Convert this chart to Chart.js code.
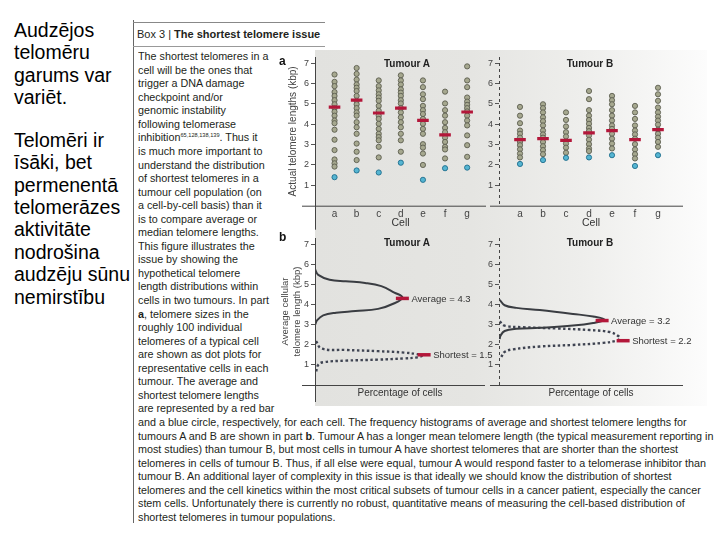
<!DOCTYPE html>
<html><head><meta charset="utf-8">
<script src="https://cdn.jsdelivr.net/npm/chart.js@4.4.1/dist/chart.umd.min.js"></script>
<style>
body{margin:0;width:720px;height:540px;background:#fff;position:relative;overflow:hidden;font-family:"Liberation Sans",Arial,sans-serif;}
.abs{position:absolute;}
.slide{left:14px;font-size:19.5px;line-height:22.4px;color:#000;white-space:nowrap;}
#bg{left:315px;top:50px;width:392px;height:356px;background:linear-gradient(to right,#e2e2df 0%,#e5e5e2 40%,#eeeeec 68%,#fcfcfc 100%);}
#boxline{left:133px;top:20px;width:1px;height:503px;background:#666;}
#hdrtop{left:133px;top:22px;width:192px;height:1px;background:#888;}
#hdrbot{left:133px;top:46px;width:192px;height:1px;background:#999;}
#hdr{left:137px;top:28px;font-size:11px;color:#231f20;white-space:nowrap;}
#body{left:138px;top:50.2px;font-size:11.5px;line-height:13.55px;color:#231f20;white-space:nowrap;transform-origin:0 0;}
#body sup{font-size:6px;vertical-align:4px;line-height:0;}
.ttl{font-size:10px;font-weight:bold;color:#222;white-space:nowrap;transform:translate(-50%,-50%);}
.plab{font-size:12px;font-weight:bold;color:#111;}
canvas{position:absolute;}
</style>
</head><body>
<div class="abs slide" style="top:18.8px">Audzējos<br>telomēru<br>garums var<br>variēt.</div>
<div class="abs slide" style="top:128.8px">Telomēri ir<br>īsāki, bet<br>permenentā<br>telomerāzes<br>aktivitāte<br>nodrošina<br>audzēju sūnu<br>nemirstību</div>

<div id="bg" class="abs"></div>
<div id="boxline" class="abs"></div>
<div id="hdrtop" class="abs"></div>
<div id="hdrbot" class="abs"></div>
<div id="hdr" class="abs">Box 3 | <b>The shortest telomere issue</b></div>
<div id="body" class="abs">
<div><span>The shortest telomeres in a</span></div>
<div><span>cell will be the ones that</span></div>
<div><span>trigger a DNA damage</span></div>
<div><span>checkpoint and/or</span></div>
<div><span>genomic instability</span></div>
<div><span>following telomerase</span></div>
<div><span>inhibition<sup>65,128,138,139</sup>. Thus it</span></div>
<div><span>is much more important to</span></div>
<div><span>understand the distribution</span></div>
<div><span>of shortest telomeres in a</span></div>
<div><span>tumour cell population (on</span></div>
<div><span>a cell-by-cell basis) than it</span></div>
<div><span>is to compare average or</span></div>
<div><span>median telomere lengths.</span></div>
<div><span>This figure illustrates the</span></div>
<div><span>issue by showing the</span></div>
<div><span>hypothetical telomere</span></div>
<div><span>length distributions within</span></div>
<div><span>cells in two tumours. In part</span></div>
<div><span><b>a</b>, telomere sizes in the</span></div>
<div><span>roughly 100 individual</span></div>
<div><span>telomeres of a typical cell</span></div>
<div><span>are shown as dot plots for</span></div>
<div><span>representative cells in each</span></div>
<div><span>tumour. The average and</span></div>
<div><span>shortest telomere lengths</span></div>
<div><span>are represented by a red bar</span></div>
<div><span>and a blue circle, respectively, for each cell. The frequency histograms of average and shortest telomere lengths for</span></div>
<div><span>tumours A and B are shown in part <b>b</b>. Tumour A has a longer mean telomere length (the typical measurement reporting in</span></div>
<div><span>most studies) than tumour B, but most cells in tumour A have shortest telomeres that are shorter than the shortest</span></div>
<div><span id="refline">telomeres in cells of tumour B. Thus, if all else were equal, tumour A would respond faster to a telomerase inhibitor than</span></div>
<div><span>tumour B. An additional layer of complexity in this issue is that ideally we should know the distribution of shortest</span></div>
<div><span>telomeres and the cell kinetics within the most critical subsets of tumour cells in a cancer patient, especially the cancer</span></div>
<div><span>stem cells. Unfortunately there is currently no robust, quantitative means of measuring the cell-based distribution of</span></div>
<div><span>shortest telomeres in tumour populations.</span></div>
</div>

<canvas id="cAA" width="215" height="185" style="left:280px;top:48px"></canvas>
<canvas id="cAB" width="235" height="185" style="left:465px;top:48px"></canvas>
<canvas id="cBA" width="215" height="180" style="left:280px;top:228px"></canvas>
<canvas id="cBB" width="235" height="180" style="left:465px;top:228px"></canvas>

<div class="abs plab" style="left:279px;top:54px">a</div>
<div class="abs plab" style="left:279px;top:230px">b</div>
<div class="abs ttl" style="left:407px;top:63px">Tumour A</div>
<div class="abs ttl" style="left:590px;top:63px">Tumour B</div>
<div class="abs ttl" style="left:407px;top:242px">Tumour A</div>
<div class="abs ttl" style="left:590px;top:242px">Tumour B</div>

<script>
// ---- Data ----
const cells = ['a','b','c','d','e','f','g'];
const yTicks = [1,2,3,4,5,6,7];

// Part a: individual telomere lengths (kbp) per cell
const tumourA_dots = [
  [6.44,6.08,5.87,5.58,5.39,5.18,4.98,4.79,4.61,4.42,4.18,4.05,3.73,3.24,2.73,2.27,2.08,1.92],
  [6.76,6.47,6.19,5.95,5.79,5.63,5.39,5.15,4.98,4.79,4.58,4.42,4.10,3.85,3.53,3.05,2.65,2.24],
  [6.15,5.87,5.66,5.47,5.31,5.15,4.90,4.66,4.42,4.26,4.02,3.77,3.53,3.37,3.21,2.89,2.37],
  [6.40,6.15,5.95,5.71,5.55,5.39,5.18,5.02,4.79,4.58,4.34,4.10,3.85,3.53,3.21,2.65],
  [6.15,5.82,5.47,5.23,4.90,4.69,4.50,4.26,4.02,3.77,3.53,3.02,2.85,2.56,2.00],
  [5.60,5.02,4.69,4.42,4.10,3.82,3.61,3.34,3.13,2.89,2.76,2.32],
  [6.84,6.15,5.82,5.31,5.11,4.95,4.79,4.63,4.42,4.18,3.94,3.45,2.97,2.40]
];
const tumourA_shortest = [1.40,1.73,1.63,2.11,1.27,1.84,1.87];
const tumourA_average  = [4.84,5.18,4.55,4.79,4.19,3.48,4.60];

const tumourB_dots = [
  [4.85,4.42,4.05,3.69,3.53,3.34,3.13,2.97,2.77,2.56,2.37],
  [4.98,4.79,4.58,4.34,4.15,3.94,3.69,3.50,3.34,3.13,2.92,2.73,2.53],
  [4.58,4.21,3.89,3.61,3.40,3.05,2.85,2.60],
  [5.63,5.23,4.69,4.42,4.21,4.02,3.82,3.66,3.45,3.24,3.02,2.81,2.68],
  [5.39,5.18,4.98,4.69,4.42,4.18,3.94,3.77,3.53,3.29,3.05,2.81],
  [4.90,4.58,4.26,3.94,3.69,3.50,3.29,3.02,2.76,2.53,2.32],
  [5.79,5.47,5.15,4.82,4.58,4.37,4.18,3.98,3.73,3.53,3.34,3.13,2.89]
];
const tumourB_shortest = [2.05,2.24,2.35,2.37,2.48,1.95,2.48];
const tumourB_average  = [3.24,3.29,3.21,3.58,3.69,3.24,3.73];

// Part b: distributions (percentage of cells vs length)
const A_avgCurvePct = [0,1.9,8.6,18.1,29.5,39,46.7,51.4,46.7,37.1,23.8,12.4,4.8,1.3,0];
const A_avgCurveLen = [5.75,5.47,5.23,5.15,5.07,4.91,4.59,4.35,4.06,3.78,3.67,3.59,3.46,3.22,2.98];
const A_shortCurvePct = [0.6,3.8,18.1,37.1,52.4,60,62.9,60,52.4,37.1,18.1,4.8,1.9,0.6];
const A_shortCurveLen = [2.18,1.81,1.74,1.68,1.61,1.53,1.45,1.37,1.32,1.26,1.21,1.13,1.0,0.65];
const B_avgCurvePct = [0.4,3.2,9.9,23.3,42.3,53.8,60.4,53.8,42.3,23.3,9.9,3.2,0.8,0.4];
const B_avgCurveLen = [4.23,3.96,3.83,3.72,3.53,3.40,3.24,3.08,2.95,2.84,2.79,2.68,2.44,2.28];
const B_shortCurvePct = [0.4,3.2,13.7,32.7,51.8,63.2,68,69,67,59.4,42.3,23.3,8,3.2,1.3];
const B_shortCurveLen = [3.16,2.95,2.87,2.81,2.73,2.63,2.44,2.31,2.20,2.09,1.99,1.91,1.77,1.64,1.40];

const markerNames = ['Average','Shortest'];
const A_markerVal = [4.3,1.5];
const A_markerPct = [51.4,64.2];
const B_markerVal = [3.2,2.2];
const B_markerPct = [58.9,70.9];

// ---- Styling ----
const FONT = '"Liberation Sans", Arial, sans-serif';
const RED = '#b3173a';
const DOT_FILL = '#a6a88f', DOT_EDGE = '#5c5e4f';
const BLUE_FILL = '#55b5d2', BLUE_EDGE = '#1f6d8c';
const AXIS = '#444';

function axisPlugin(dashed, leftExt, downExt){
  return {
    id:'axisLines',
    afterDraw(chart){
      const {ctx, chartArea:a, scales} = chart;
      const y0 = scales.y.getPixelForValue(0);
      ctx.save();
      ctx.strokeStyle = AXIS; ctx.lineWidth = 1;
      ctx.beginPath(); ctx.moveTo(a.left - leftExt, y0 + 0.5); ctx.lineTo(a.right, y0 + 0.5); ctx.stroke();
      if (dashed) ctx.setLineDash([3,3]);
      ctx.beginPath(); ctx.moveTo(a.left + 0.5, a.top); ctx.lineTo(a.left + 0.5, a.bottom + downExt); ctx.stroke();
      ctx.restore();
    }
  };
}

const markerLabelPlugin = {
  id:'markerLabels',
  afterDatasetsDraw(chart){
    const {ctx} = chart;
    chart.data.datasets.forEach((ds, di) => {
      if (!ds.markerLabels) return;
      const meta = chart.getDatasetMeta(di);
      meta.data.forEach((pt, i) => {
        ctx.save();
        ctx.font = '9.5px ' + FONT;
        ctx.fillStyle = '#333';
        ctx.textBaseline = 'middle';
        ctx.fillText(ds.markerLabels[i] + ' = ' + ds.data[i].y, pt.x + 9, pt.y + 0.5);
        ctx.restore();
      });
    });
  }
};

function yScale(opts){
  return {
    type:'linear', min:0, max:7.3,
    afterBuildTicks: s => { s.ticks = yTicks.map(v => ({value:v})); },
    ticks:{font:{family:FONT,size:9}, color:'#444', padding:2},
    grid:{display:true, drawOnChartArea:false, drawTicks:true, tickLength:4, color:'#555'},
    border:{display:false},
    title: opts.title ? {display:true, text:opts.title, color:'#444', font:{family:FONT,size:opts.tsize||10}, padding:{top:opts.tpad||0,bottom:0}} : {display:false},
    afterFit: s => { s.width = opts.width; }
  };
}

function dotChart(id, dots, shortest, average, xmin, xmax, yw, padRight, showTitle){
  const pts = [];
  dots.forEach((arr, i) => arr.forEach(v => pts.push({x:i, y:v})));
  return new Chart(document.getElementById(id), {
    type:'scatter',
    data:{datasets:[
      {data: average.map((v,i)=>({x:i,y:v})), pointStyle:'line', pointRadius:5.8, pointBorderWidth:3.2, borderColor:RED, backgroundColor:RED},
      {data: shortest.map((v,i)=>({x:i,y:v})), pointRadius:2.6, pointBorderWidth:0.9, backgroundColor:BLUE_FILL, borderColor:BLUE_EDGE},
      {data: pts, pointRadius:2.6, pointBorderWidth:0.9, backgroundColor:DOT_FILL, borderColor:DOT_EDGE}
    ]},
    options:{
      responsive:false, animation:false,
      layout:{padding:{left:0, top:6.8, right:padRight, bottom:0}},
      plugins:{legend:{display:false}, tooltip:{enabled:false}},
      scales:{
        x:{type:'linear', min:xmin, max:xmax,
          afterBuildTicks: s => { s.ticks = cells.map((c,i)=>({value:i})); },
          ticks:{callback: v => cells[v], font:{family:FONT,size:10}, color:'#444', padding:3},
          grid:{display:false, drawTicks:false}, border:{display:false},
          title:{display:true, text:'Cell', color:'#333', font:{family:FONT,size:10.5}, padding:{top:0,bottom:4}},
          afterFit: s => { s.height = 27.3; }
        },
        y: yScale({width:yw, title: showTitle ? 'Actual telomere lengths (kbp)' : null, tpad:7})
      }
    },
    plugins:[axisPlugin(!showTitle, showTitle ? 13 : 9, showTitle ? 24 : 0)]
  });
}

function distChart(id, avgPct, avgLen, shPct, shLen, mPct, mVal, xmax, yw, padRight, showTitle){
  return new Chart(document.getElementById(id), {
    type:'scatter',
    data:{datasets:[
      {data: mPct.map((p,i)=>({x:p,y:mVal[i]})), markerLabels: markerNames, pointStyle:'line', pointRadius:6.5, pointBorderWidth:3.5, borderColor:RED, backgroundColor:RED},
      {data: avgPct.map((p,i)=>({x:p,y:avgLen[i]})), showLine:true, tension:0.4, pointRadius:0, borderColor:'#3a3d42', borderWidth:2},
      {data: shPct.map((p,i)=>({x:p,y:shLen[i]})), showLine:true, tension:0.4, pointRadius:0, borderColor:'#3f4452', borderWidth:2.4, borderDash:[2.5,2.5]}
    ]},
    options:{
      responsive:false, animation:false,
      layout:{padding:{left:0, top:5.7, right:padRight, bottom:0}},
      plugins:{legend:{display:false}, tooltip:{enabled:false}},
      scales:{
        x:{type:'linear', min:0, max:xmax,
          ticks:{display:false}, grid:{display:false, drawTicks:false}, border:{display:false},
          title:{display:true, text:'Percentage of cells', color:'#333', font:{family:FONT,size:10}, padding:{top:0,bottom:9}},
          afterFit: s => { s.height = 23; }
        },
        y: yScale({width:yw, title: showTitle ? ['Average cellular','telomere length (kbp)'] : null, tsize:9.5, tpad:0})
      }
    },
    plugins:[axisPlugin(!showTitle, showTitle ? 13 : 9, showTitle ? 17 : 0), markerLabelPlugin]
  });
}

dotChart('cAA', tumourA_dots, tumourA_shortest, tumourA_average, -0.884, 6.853, 35, 5, true);
dotChart('cAB', tumourB_dots, tumourB_shortest, tumourB_average, -0.913, 7.087, 34, 17, false);
distChart('cBA', A_avgCurvePct, A_avgCurveLen, A_shortCurvePct, A_shortCurveLen, A_markerPct, A_markerVal, 100, 35, 5, true);
distChart('cBB', B_avgCurvePct, B_avgCurveLen, B_shortCurvePct, B_shortCurveLen, B_markerPct, B_markerVal, 105.1, 34, 17, false);

// fit body text width to the reference column
const ref = document.getElementById('refline');
const w = ref.getBoundingClientRect().width;
document.getElementById('body').style.transform = 'scaleX(' + (568 / w) + ')';
</script>
</body></html>
